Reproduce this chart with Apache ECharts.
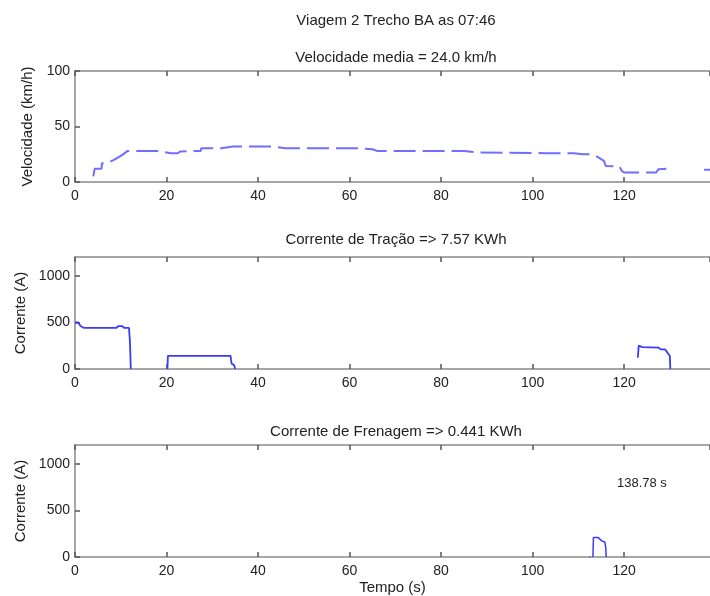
<!DOCTYPE html>
<html><head><meta charset="utf-8">
<script src="https://cdn.jsdelivr.net/npm/echarts@6/dist/echarts.min.js"></script>
<style>html,body{margin:0;padding:0;background:#fff}#c{width:710px;height:596px}</style>
</head><body><div id="c"></div>
<script>
// ---- data ----
const mainTitle = 'Viagem 2 Trecho BA as 07:46';
const speedTitle = 'Velocidade media = 24.0 km/h';
const tractionTitle = 'Corrente de Tração => 7.57 KWh';
const brakingTitle = 'Corrente de Frenagem => 0.441 KWh';
const tripTimeLabel = '138.78 s';
const xMax = 138.78;
const xTickStep = 20;
const speedMax = 100, speedStep = 50;
const currentMax = 1200, currentStep = 500;

const speedT = [4, 4.3, 5.8, 5.9, 7, 8.5, 10.2, 11.5, 18, 21, 22.5, 23, 27.5, 27.6, 32, 34.5, 40, 43, 46, 62, 65, 66, 69, 73.5, 85, 88, 103, 109, 111, 112.5, 114, 115.6, 116, 119, 119.5, 120, 127, 127.5, 130, 130.5, 131, 137.5, 138.78];
const speedV = [5, 12, 12, 17, 17, 20, 24, 28, 28, 26, 26, 27.5, 28, 30.5, 30.5, 32, 32, 32, 30.5, 30.5, 29.5, 28, 28, 28, 28, 26.5, 26, 26, 25, 25, 23, 19, 14.5, 14, 10, 8.5, 8.5, 11.5, 12, 14.5, null, 11, 11];

const tractionT = [0, 0.7, 1.2, 2, 9, 9.5, 10.3, 10.8, 11.8, 12, 12.2, 16, 20.2, 20.3, 34, 34.2, 34.8, 35, 80, 123, 123.2, 124, 127.5, 128, 129, 130, 130.1];
const tractionV = [500, 500, 460, 440, 440, 460, 460, 440, 440, 300, 0, null, 0, 140, 140, 60, 40, 0, null, 120, 250, 235, 230, 210, 210, 140, 0];

const brakingT = [112.4, 112.6, 113, 113.2, 113.3, 114.3, 114.7, 115.2, 115.8, 116, 116.1];
const brakingV = [0, 0, null, 0, 210, 210, 190, 170, 160, 100, 0];

// ---- chart ----
const pairs = (t, v) => t.map((x, i) => [x, v[i] === null ? '-' : v[i]]);
const FONT = 'Liberation Sans, Arial, sans-serif';
const txt = '#222';
const axisCol = '#8a8a8a';
const TICK_FS = 14, NAME_FS = 15, TITLE_FS = 15;
const grids = [
  {left: 75, top: 71, width: 638, height: 111},
  {left: 75, top: 257, width: 638, height: 112},
  {left: 75, top: 445, width: 638, height: 112}
];
const xAxes = [], yAxes = [];
const yNames = ['Velocidade (km/h)', 'Corrente (A)', 'Corrente (A)'];
const yMaxs = [speedMax, currentMax, currentMax];
const ySteps = [speedStep, currentStep, currentStep];
grids.forEach((g, i) => {
  xAxes.push({
    type: 'value', gridIndex: i, min: 0, max: xMax, interval: xTickStep, position: 'bottom',
    axisLine: {lineStyle: {color: axisCol, width: 1.5}},
    axisTick: {inside: true, length: 5, lineStyle: {color: '#555', width: 1.5}},
    axisLabel: {color: txt, fontFamily: FONT, fontSize: TICK_FS, margin: 7, showMaxLabel: false,
      formatter: v => String(v)},
    splitLine: {show: false},
    name: i === 2 ? 'Tempo (s)' : '', nameLocation: 'middle', nameGap: 23,
    nameTextStyle: {color: txt, fontFamily: FONT, fontSize: NAME_FS}
  });
  xAxes.push({
    type: 'value', gridIndex: i, min: 0, max: xMax, interval: xTickStep, position: 'top',
    axisLine: {lineStyle: {color: axisCol, width: 1.5}},
    axisTick: {inside: true, length: 5, lineStyle: {color: '#555', width: 1.5}},
    axisLabel: {show: false}, splitLine: {show: false}
  });
  yAxes.push({
    type: 'value', gridIndex: i, min: 0, max: yMaxs[i], interval: ySteps[i],
    axisLine: {show: true, lineStyle: {color: axisCol, width: 1.5}},
    axisTick: {show: true, inside: true, length: 5, lineStyle: {color: '#555', width: 1.5}},
    axisLabel: {color: txt, fontFamily: FONT, fontSize: TICK_FS, margin: 5, showMaxLabel: i === 0,
      formatter: v => String(v)},
    splitLine: {show: false},
    name: yNames[i], nameLocation: 'middle', nameGap: 36,
    nameTextStyle: {color: txt, fontFamily: FONT, fontSize: NAME_FS}
  });
});
const lineSeries = (idx, data, color, width, dash) => ({
  type: 'line', xAxisIndex: idx * 2, yAxisIndex: idx, data, showSymbol: false, symbol: 'none',
  connectNulls: false, animation: false,
  lineStyle: {color, width, type: dash || 'solid'}
});
const tStyle = {color: txt, fontFamily: FONT, fontSize: TITLE_FS, fontWeight: 'normal'};
const chart = echarts.init(document.getElementById('c'));
chart.setOption({
  backgroundColor: '#fff',
  animation: false,
  title: [
    {text: mainTitle, left: 396, top: 13, textAlign: 'center', padding: 0, textStyle: tStyle},
    {text: speedTitle, left: 396, top: 50, textAlign: 'center', padding: 0, textStyle: tStyle},
    {text: tractionTitle, left: 396, top: 232, textAlign: 'center', padding: 0, textStyle: tStyle},
    {text: brakingTitle, left: 396, top: 424, textAlign: 'center', padding: 0, textStyle: tStyle}
  ],
  grid: grids,
  xAxis: xAxes,
  yAxis: yAxes,
  graphic: [{type: 'text', left: 617, top: 477, style: {text: tripTimeLabel, fill: txt, font: '13px ' + FONT}}],
  series: [
    lineSeries(0, pairs(speedT, speedV), '#6f6fff', 2, [22, 7]),
    lineSeries(1, pairs(tractionT, tractionV), '#3a3aff', 1.8),
    lineSeries(2, pairs(brakingT, brakingV), '#3a3aff', 1.5)
  ]
});
</script></body></html>
